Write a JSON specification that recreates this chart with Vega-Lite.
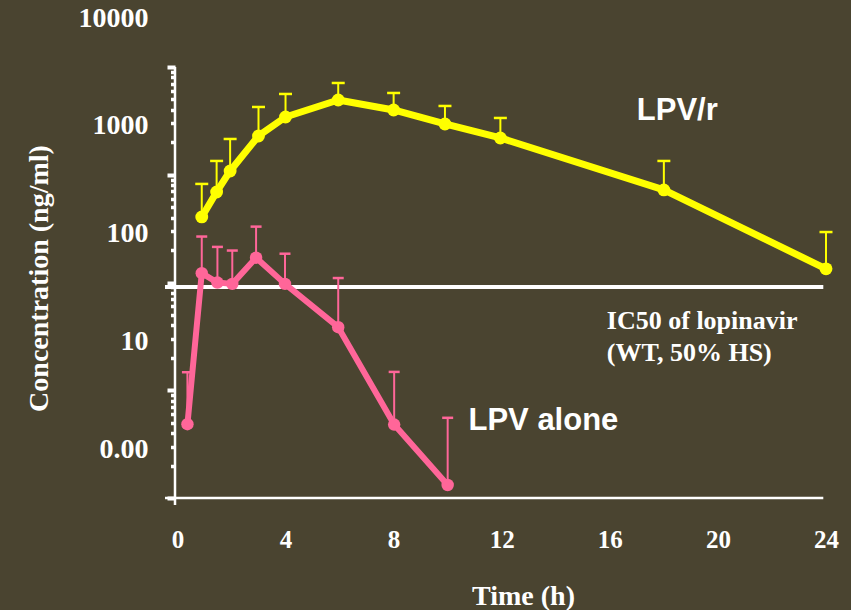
{
  "$schema": "https://vega.github.io/schema/vega-lite/v6.json",
  "width": 651,
  "height": 431,
  "autosize": "none",
  "padding": {"left": 175, "top": 67, "right": 25, "bottom": 112},
  "background": "#4a4430",
  "datasets": {
    "pk": [
      {"series": "LPV/r", "t": 0.9, "conc": 406, "upper": 822},
      {"series": "LPV/r", "t": 1.45, "conc": 692, "upper": 1343},
      {"series": "LPV/r", "t": 1.95, "conc": 1084, "upper": 2148},
      {"series": "LPV/r", "t": 3, "conc": 2291, "upper": 4256},
      {"series": "LPV/r", "t": 4, "conc": 3436, "upper": 5620},
      {"series": "LPV/r", "t": 5.95, "conc": 4943, "upper": 7108},
      {"series": "LPV/r", "t": 8, "conc": 3992, "upper": 5741},
      {"series": "LPV/r", "t": 9.9, "conc": 2960, "upper": 4349},
      {"series": "LPV/r", "t": 11.95, "conc": 2195, "upper": 3365},
      {"series": "LPV/r", "t": 18, "conc": 723, "upper": 1343},
      {"series": "LPV/r", "t": 24, "conc": 134, "upper": 294},
      {"series": "LPV alone", "t": 0.37, "conc": 4.84, "upper": 14.7},
      {"series": "LPV alone", "t": 0.9, "conc": 122, "upper": 267},
      {"series": "LPV alone", "t": 1.48, "conc": 99.8, "upper": 214},
      {"series": "LPV alone", "t": 2.03, "conc": 97.1, "upper": 198},
      {"series": "LPV alone", "t": 2.91, "conc": 170, "upper": 330},
      {"series": "LPV alone", "t": 3.98, "conc": 97.1, "upper": 185},
      {"series": "LPV alone", "t": 5.95, "conc": 38.5, "upper": 110},
      {"series": "LPV alone", "t": 8.02, "conc": 4.8, "upper": 14.8},
      {"series": "LPV alone", "t": 10.0, "conc": 1.32, "upper": 5.55}
    ],
    "guides": [
      {"guide": "IC50", "t": -0.46, "t2": 23.9, "c": 91, "c2": 91},
      {"guide": "x axis", "t": -0.46, "t2": 23.9, "c": 1, "c2": 1},
      {"guide": "y axis", "t": -0.09, "t2": -0.09, "c": 10000, "c2": 0.861}
    ],
    "notes": [
      {"note": "LPV/r", "kind": "curve", "t": 17.0, "c": 3221},
      {"note": "LPV alone", "kind": "curve", "t": 10.77, "c": 4.28},
      {"note": "IC50 of lopinavir", "kind": "ref", "t": 15.89, "c": 36.8},
      {"note": "(WT, 50% HS)", "kind": "ref", "t": 15.89, "c": 18.8}
    ]
  },
  "resolve": {"axis": {"y": "independent"}, "scale": {"y": "shared", "size": "independent", "strokeWidth": "independent"}},
  "layer": [
    {
      "data": {"name": "guides"},
      "transform": [{"filter": "datum.guide == 'IC50'"}],
      "mark": {"type": "rule", "color": "#ffffff", "strokeWidth": 4},
      "encoding": {
        "x": {
          "field": "t", "type": "quantitative",
          "scale": {"domain": [-0.09, 24], "nice": false, "zero": false},
          "axis": {
            "values": [0, 4, 8, 12, 16, 20, 24],
            "ticks": false, "domain": false, "grid": false, "labelFlush": false,
            "labelFont": "Liberation Serif", "labelFontWeight": "bold", "labelFontSize": 25,
            "labelColor": "#ffffff", "labelBaseline": "alphabetic", "labelPadding": 49,
            "title": "Time (h)", "titleFont": "Liberation Serif", "titleFontWeight": "bold",
            "titleFontSize": 28, "titleColor": "#ffffff", "titleX": 348, "titleY": 106,
            "titleBaseline": "alphabetic", "titleAlign": "center"
          }
        },
        "x2": {"field": "t2"},
        "y": {
          "field": "c", "type": "quantitative",
          "scale": {"type": "log", "domain": [1, 10000], "nice": false},
          "axis": {
            "orient": "left",
            "values": [1, 10, 100, 1000, 10000],
            "domain": false, "grid": false,
            "ticks": true, "tickSize": 8, "tickWidth": 4, "tickColor": "#ffffff",
            "labelExpr": "datum.value == 1 ? '0.00' : format(datum.value, 'd')",
            "labelOffset": -49, "labelPadding": 19,
            "labelFont": "Liberation Serif", "labelFontWeight": "bold", "labelFontSize": 28,
            "labelColor": "#ffffff",
            "title": "Concentration (ng/ml)", "titleFont": "Liberation Serif", "titleFontWeight": "bold",
            "titleFontSize": 28, "titleColor": "#ffffff", "titleAngle": -90,
            "titleX": -128, "titleY": 211, "titleBaseline": "alphabetic", "titleAlign": "center"
          }
        },
        "y2": {"field": "c2"}
      }
    },
    {
      "data": {"name": "guides"},
      "transform": [{"filter": "datum.guide != 'IC50'"}],
      "mark": {"type": "rule", "color": "#ffffff", "strokeWidth": 2.5},
      "encoding": {
        "x": {"field": "t", "type": "quantitative"},
        "x2": {"field": "t2"},
        "y": {
          "field": "c", "type": "quantitative",
          "axis": {
            "orient": "left",
            "values": [2, 3, 4, 5, 6, 7, 8, 9, 20, 30, 40, 50, 60, 70, 80, 90, 200, 300, 400, 500, 600, 700, 800, 900, 2000, 3000, 4000, 5000, 6000, 7000, 8000, 9000],
            "domain": false, "grid": false, "labels": false, "title": null,
            "ticks": true, "tickSize": 4.5, "tickWidth": 3.5, "tickColor": "#ffffff"
          }
        },
        "y2": {"field": "c2"}
      }
    },
    {
      "data": {"name": "pk"},
      "mark": {"type": "rule", "strokeWidth": 2},
      "encoding": {
        "x": {"field": "t", "type": "quantitative"},
        "y": {"field": "conc", "type": "quantitative", "axis": null},
        "y2": {"field": "upper"},
        "color": {"field": "series", "type": "nominal", "scale": {"domain": ["LPV/r", "LPV alone"], "range": ["#ffff00", "#ff6699"]}, "legend": null}
      }
    },
    {
      "data": {"name": "pk"},
      "mark": {"type": "tick", "orient": "horizontal", "thickness": 2.5, "opacity": 1},
      "encoding": {
        "x": {"field": "t", "type": "quantitative"},
        "y": {"field": "upper", "type": "quantitative", "axis": null},
        "size": {"field": "series", "type": "nominal", "scale": {"domain": ["LPV/r", "LPV alone"], "range": [13, 11]}, "legend": null},
        "color": {"field": "series", "type": "nominal", "legend": null}
      }
    },
    {
      "data": {"name": "pk"},
      "mark": {"type": "line", "strokeJoin": "round", "strokeCap": "round"},
      "encoding": {
        "x": {"field": "t", "type": "quantitative"},
        "y": {"field": "conc", "type": "quantitative", "axis": null},
        "color": {"field": "series", "type": "nominal", "legend": null},
        "strokeWidth": {"field": "series", "type": "nominal", "scale": {"domain": ["LPV/r", "LPV alone"], "range": [7, 6]}, "legend": null},
        "order": {"field": "t", "type": "quantitative"}
      }
    },
    {
      "data": {"name": "pk"},
      "mark": {"type": "circle", "opacity": 1},
      "encoding": {
        "x": {"field": "t", "type": "quantitative"},
        "y": {"field": "conc", "type": "quantitative", "axis": null},
        "color": {"field": "series", "type": "nominal", "legend": null},
        "size": {"field": "series", "type": "nominal", "scale": {"domain": ["LPV/r", "LPV alone"], "range": [165, 155]}, "legend": null}
      }
    },
    {
      "data": {"name": "notes"},
      "transform": [{"filter": "datum.kind == 'curve'"}],
      "mark": {"type": "text", "align": "left", "baseline": "alphabetic", "font": "Liberation Sans", "fontWeight": "bold", "fontSize": 31, "color": "#ffffff"},
      "encoding": {
        "x": {"field": "t", "type": "quantitative"},
        "y": {"field": "c", "type": "quantitative", "axis": null},
        "text": {"field": "note"}
      }
    },
    {
      "data": {"name": "notes"},
      "transform": [{"filter": "datum.kind == 'ref'"}],
      "mark": {"type": "text", "align": "left", "baseline": "alphabetic", "font": "Liberation Serif", "fontWeight": "bold", "fontSize": 26, "color": "#ffffff"},
      "encoding": {
        "x": {"field": "t", "type": "quantitative"},
        "y": {"field": "c", "type": "quantitative", "axis": null},
        "text": {"field": "note"}
      }
    }
  ],
  "config": {"view": {"stroke": null}}
}
